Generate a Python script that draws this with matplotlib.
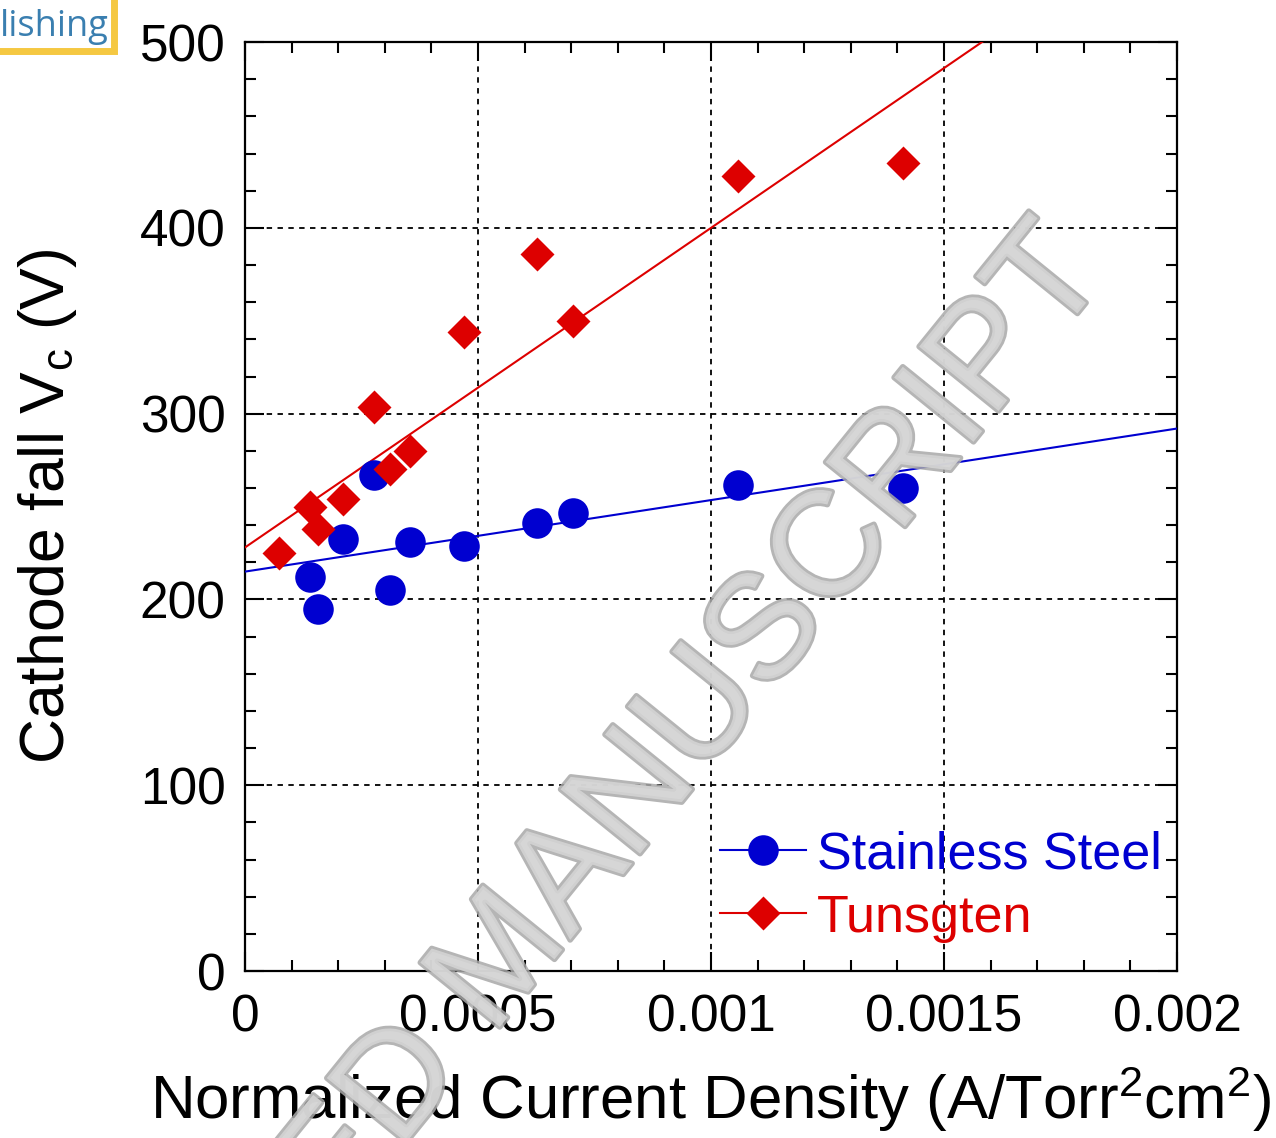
import matplotlib
matplotlib.use("Agg")
import matplotlib.pyplot as plt
import matplotlib.patheffects as pe
from matplotlib.lines import Line2D
from matplotlib.patches import Rectangle
from matplotlib.ticker import MultipleLocator, FixedLocator, FixedFormatter
import numpy as np

plt.rcParams['font.family'] = ['Liberation Sans', 'DejaVu Sans']
plt.rcParams['mathtext.fontset'] = 'custom'
plt.rcParams['mathtext.rm'] = 'Liberation Sans'
plt.rcParams['mathtext.it'] = 'Liberation Sans'

# normalized current density (A/Torr^2 cm^2) and cathode fall (V)
j_steel = [0.000140, 0.000157, 0.000210, 0.000277, 0.000311, 0.000354,
           0.000470, 0.000627, 0.000704, 0.001058, 0.001412]
vc_steel = [212, 195, 232.5, 267, 205, 231, 229, 241, 246.5, 261.5, 260]

j_tung = [0.000073, 0.000140, 0.000157, 0.000210, 0.000277, 0.000311,
          0.000354, 0.000470, 0.000627, 0.000704, 0.001058, 0.001412]
vc_tung = [225, 250, 238, 254, 303.5, 270, 280, 344, 386, 350, 428, 435]

# linear fits: intercept (V), slope (V per A/Torr^2cm^2)
fit_steel = (215.0, 38500.0)
fit_tung = (228.0, 172000.0)

x_ticks = [0, 0.0005, 0.001, 0.0015, 0.002]
x_ticklabels = ["0", "0.0005", "0.001", "0.0015", "0.002"]
y_ticks = [0, 100, 200, 300, 400, 500]

BLUE = "#0000d0"
RED = "#dd0000"

fig = plt.figure(figsize=(12.76, 11.38), dpi=100)
ax = fig.add_axes([0.192, 0.1467, 0.7304, 0.8163])

xfit = np.linspace(0, 0.002, 200)
ax.plot(xfit, fit_steel[0] + fit_steel[1] * xfit, color=BLUE, lw=1.5, zorder=3)
ax.plot(xfit, fit_tung[0] + fit_tung[1] * xfit, color=RED, lw=1.5, zorder=3)
ax.plot(j_steel, vc_steel, 'o', color=BLUE, ms=22, mec='none', zorder=4)
ax.plot(j_tung, vc_tung, 'D', color=RED, ms=17, mec='none', zorder=4)

ax.set_xlim(0, 0.002)
ax.set_ylim(0, 500)
ax.xaxis.set_major_locator(FixedLocator(x_ticks))
ax.xaxis.set_major_formatter(FixedFormatter(x_ticklabels))
ax.xaxis.set_minor_locator(MultipleLocator(0.0001))
ax.yaxis.set_major_locator(FixedLocator(y_ticks))
ax.yaxis.set_minor_locator(MultipleLocator(20))

ax.grid(True, which='major', color='black', linestyle=(0, (3, 3)), linewidth=1.3)
ax.tick_params(which='both', direction='in', top=True, right=True, width=1.5)
ax.tick_params(which='major', length=14, labelsize=37)
ax.tick_params(which='minor', length=8)
ax.tick_params(axis='y', pad=14)
ax.tick_params(axis='x', pad=16)
for s in ax.spines.values():
    s.set_linewidth(1.6)

ax.set_xlabel(r"Normalized Current Density (A/Torr$^\mathregular{2}$cm$^\mathregular{2}$)",
              fontsize=44.5, labelpad=16)
ax.set_ylabel(r"Cathode fall V$_\mathregular{c}$ (V)", fontsize=45, labelpad=44)

handles = [Line2D([], [], color=BLUE, lw=1.5, marker='o', ms=22, mec='none'),
           Line2D([], [], color=RED, lw=1.5, marker='D', ms=17, mec='none')]
leg = ax.legend(handles, ["Stainless Steel", "Tunsgten"], loc='center left',
                bbox_to_anchor=(0.487, 0.091), frameon=False, fontsize=37.5,
                handlelength=1.66, handletextpad=0.2, labelspacing=0.27,
                borderaxespad=0, labelcolor='linecolor')
leg.set_zorder(5)

# watermark across the plot
fig.text(0.395, 0.156, "ACCEPTED MANUSCRIPT", fontsize=107, rotation=51,
         rotation_mode='anchor', ha='center', va='center', color='#d6d6d6',
         alpha=0.85, zorder=10,
         path_effects=[pe.withStroke(linewidth=4, foreground='#a8a8a8')])

# publisher badge in the corner
fig.patches.append(Rectangle((-0.05, 0.955), 0.1395, 0.1, transform=fig.transFigure,
                             facecolor='white', edgecolor='#f5c842', linewidth=5))
fig.text(0.0, 0.976, "lishing", fontsize=26, color='#3a7fb0', fontfamily='Open Sans',
         ha='left', va='center')

fig.savefig("out.png", dpi=100)
